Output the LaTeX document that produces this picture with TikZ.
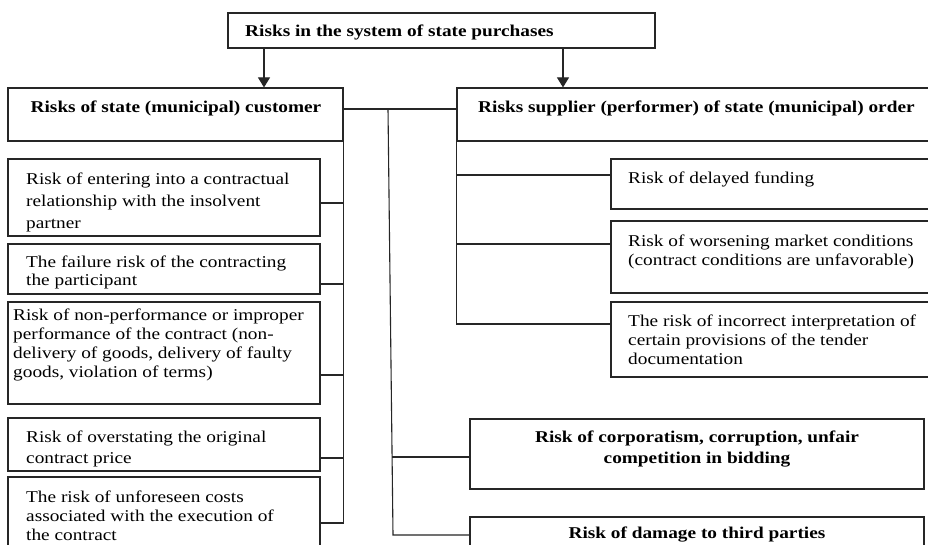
\documentclass[tikz,border=0pt]{standalone}
\usepackage{fontspec}
\setmainfont{Liberation Serif}[FakeStretch=1.17]
\usetikzlibrary{arrows.meta}
\newcommand{\ml}[2]{\fontsize{16.5}{#1}\selectfont\begin{tabular}[t]{@{}l@{}}#2\end{tabular}}
\newcommand{\mlc}[2]{\fontsize{16.5}{#1}\selectfont\begin{tabular}[t]{@{}c@{}}#2\end{tabular}}
\begin{document}
\begin{tikzpicture}[x=1pt,y=-1pt,
  box/.style={draw=black!85, line width=1.2pt, inner sep=0pt, rectangle},
  conn/.style={draw=black!85, line width=1.1pt},
  arr/.style={conn, -{Triangle[width=12pt,length=10pt]}},
  txt/.style={inner sep=0pt, anchor=base west, font=\fontsize{16.5}{19}\selectfont},
  ctxt/.style={inner sep=0pt, anchor=base, font=\fontsize{16.5}{19}\selectfont}]
\useasboundingbox (0,0) rectangle (928,544);
\clip (0,0) rectangle (928,544);
\fill[white] (0,0) rectangle (928,544);
% boxes
\node[box, minimum width=427pt, minimum height=35pt] (top) at (441.5,30.5) {};
\node[box, minimum width=335pt, minimum height=53pt] (lh) at (175.5,114.5) {};
\node[box, minimum width=483pt, minimum height=53pt] (rh) at (698.5,114.5) {};
\node[box, minimum width=312pt, minimum height=77pt] (b1) at (164,197.5) {};
\node[box, minimum width=312pt, minimum height=50pt] (b2) at (164,269) {};
\node[box, minimum width=312pt, minimum height=102pt] (b3) at (164,353) {};
\node[box, minimum width=312pt, minimum height=53pt] (b4) at (164,444.5) {};
\node[box, minimum width=312pt, minimum height=83pt] (b5) at (164,518.5) {};
\node[box, minimum width=329pt, minimum height=50pt] (rA) at (775.5,184) {};
\node[box, minimum width=329pt, minimum height=72pt] (rB) at (775.5,257) {};
\node[box, minimum width=329pt, minimum height=75pt] (rC) at (775.5,339.5) {};
\node[box, minimum width=454pt, minimum height=70pt] (rD) at (697,454) {};
\node[box, minimum width=454pt, minimum height=83pt] (rE) at (697,558.5) {};
% helper coordinates
\coordinate (xl) at (264,0);
\coordinate (xr) at (563,0);
\coordinate (ym) at (0,109);
\coordinate (y1) at (0,203);
\coordinate (y2) at (0,284);
\coordinate (y3) at (0,375);
\coordinate (y4) at (0,458);
\coordinate (y5) at (0,523);
\coordinate (ya) at (0,175);
\coordinate (yb) at (0,244);
\coordinate (yc) at (0,324);
\coordinate (mtop) at (388,109);
\coordinate (mmid) at (392.1,457);
\coordinate (mbot) at (393,535);
% arrows
\draw[arr] (top.south -| xl) -- (lh.north -| xl);
\draw[arr] (top.south -| xr) -- (rh.north -| xr);
% left bus
\draw[conn] (lh.south east) -- (lh.south east |- y5);
\draw[conn] (b1.east |- y1) -- (lh.east |- y1);
\draw[conn] (b2.east |- y2) -- (lh.east |- y2);
\draw[conn] (b3.east |- y3) -- (lh.east |- y3);
\draw[conn] (b4.east |- y4) -- (lh.east |- y4);
\draw[conn] (b5.east |- y5) -- (lh.east |- y5);
% middle
\draw[conn] (lh.east |- ym) -- (rh.west |- ym);
\draw[conn] (mtop) -- (mbot) -- (rE.west |- mbot);
\draw[conn] (mmid) -- (rD.west |- mmid);
% right bus
\draw[conn] (rh.south west) -- (rh.south west |- yc);
\draw[conn] (rh.west |- ya) -- (rA.west |- ya);
\draw[conn] (rh.west |- yb) -- (rB.west |- yb);
\draw[conn] (rh.west |- yc) -- (rC.west |- yc);
% texts
\node[txt] (ttop) at (245,36) {\bfseries Risks in the system of state purchases};
\node[ctxt] (tlh) at (176,112) {\bfseries Risks of state (municipal) customer};
\node[txt] (trh) at (478,112) {\bfseries Risks supplier (performer) of state (municipal) order};
\node[txt] (t1) at (26,184) {\ml{22}{Risk of entering into a contractual\\relationship with the insolvent\\partner}};
\node[txt] (t2) at (26,267) {\ml{18}{The failure risk of the contracting\\the participant}};
\node[txt] (t3) at (13,320) {\ml{19.3}{Risk of non-performance or improper\\performance of the contract (non-\\delivery of goods, delivery of faulty\\goods, violation of terms)}};
\node[txt] (t4) at (26,442) {\ml{21}{Risk of overstating the original\\contract price}};
\node[txt] (t5) at (26,502) {\ml{19}{The risk of unforeseen costs\\associated with the execution of\\the contract}};
\node[txt] (tA) at (628,183) {Risk of delayed funding};
\node[txt] (tB) at (628,246) {\ml{19}{Risk of worsening market conditions\\(contract conditions are unfavorable)}};
\node[txt] (tC) at (628,326) {\ml{19}{The risk of incorrect interpretation of\\certain provisions of the tender\\documentation}};
\node[ctxt] (tD) at (697,442) {\bfseries\mlc{21}{Risk of corporatism, corruption, unfair\\competition in bidding}};
\node[ctxt] (tE) at (697,538) {\bfseries Risk of damage to third parties};
\end{tikzpicture}
\end{document}
